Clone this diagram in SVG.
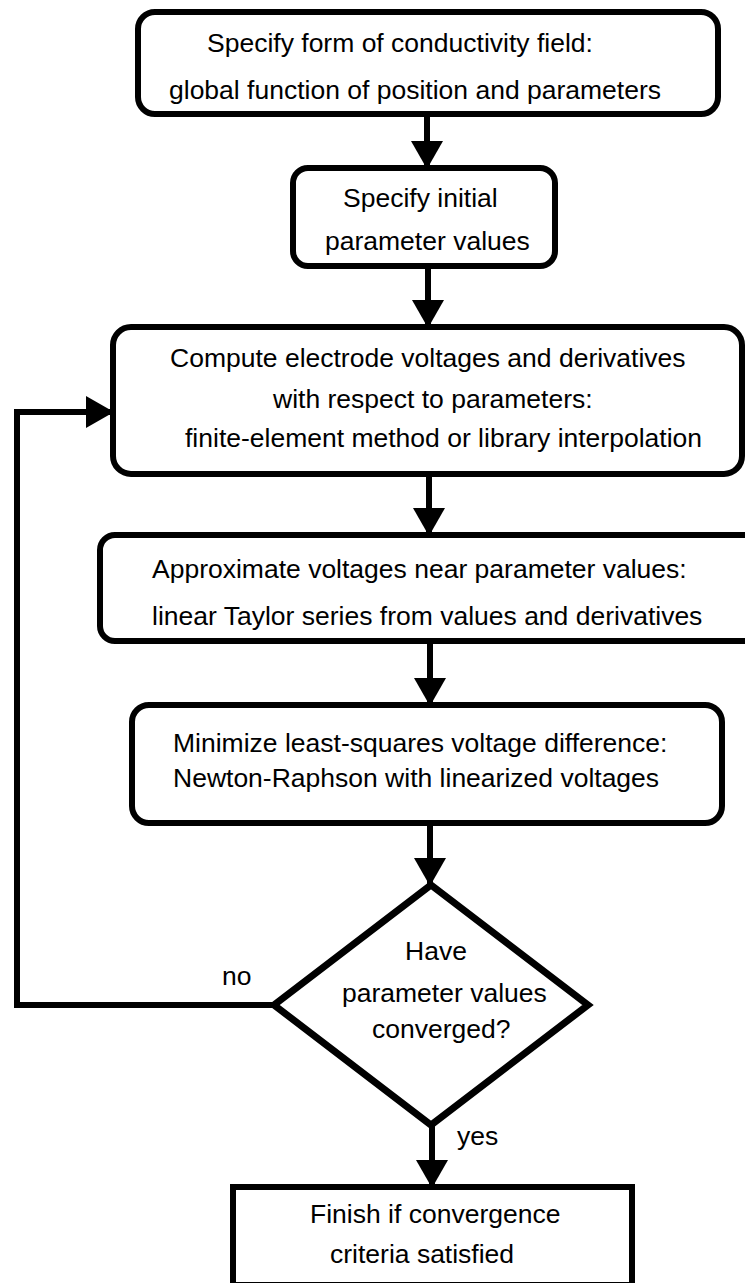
<svg xmlns="http://www.w3.org/2000/svg" width="745" height="1283" viewBox="0 0 745 1283">
<style>
.box{fill:#fff;stroke:#000;stroke-width:6}
.dia{fill:#fff;stroke:#000;stroke-width:7;stroke-linejoin:miter}
.t{font-family:"Liberation Sans",Arial,Helvetica,sans-serif;font-size:26.5px;fill:#000}
.c{stroke:#000;stroke-width:6;fill:none}
</style>
<defs>
<marker id="ah" markerUnits="userSpaceOnUse" markerWidth="28" markerHeight="32" refX="27" refY="16" orient="auto">
<path d="M0,0 L28,16 L0,32 z" fill="#000"/>
</marker>
</defs>
<rect width="745" height="1283" fill="#fff"/>
<g id="connectors">
<line class="c" x1="427" y1="114" x2="427" y2="168" marker-end="url(#ah)"/>
<line class="c" x1="428" y1="266" x2="428" y2="327" marker-end="url(#ah)"/>
<line class="c" x1="429" y1="474" x2="429" y2="535" marker-end="url(#ah)"/>
<line class="c" x1="430" y1="641" x2="430" y2="705" marker-end="url(#ah)"/>
<line class="c" x1="430" y1="823" x2="430" y2="885" marker-end="url(#ah)"/>
<line class="c" x1="432" y1="1125" x2="432" y2="1187" marker-end="url(#ah)"/>
<polyline class="c" points="274,1005 17,1005 17,412 113,412" marker-end="url(#ah)"/>
</g>
<g id="n1">
<rect class="box" x="138" y="12" width="580" height="102" rx="17"/>
<text class="t" x="207" y="52">Specify form of conductivity field:</text>
<text class="t" x="169" y="99">global function of position and parameters</text>
</g>
<g id="n2">
<rect class="box" x="293" y="168" width="262" height="98" rx="15"/>
<text class="t" x="343" y="207">Specify initial</text>
<text class="t" x="325" y="250">parameter values</text>
</g>
<g id="n3">
<rect class="box" x="113" y="327" width="629" height="147" rx="18"/>
<text class="t" x="170" y="367">Compute electrode voltages and derivatives</text>
<text class="t" x="273" y="408">with respect to parameters:</text>
<text class="t" x="185" y="447">finite-element method or library interpolation</text>
</g>
<g id="n4">
<rect class="box" x="100" y="535" width="660" height="106" rx="15"/>
<text class="t" x="152" y="578">Approximate voltages near parameter values:</text>
<text class="t" x="152" y="625">linear Taylor series from values and derivatives</text>
</g>
<g id="n5">
<rect class="box" x="132" y="705" width="590" height="118" rx="17"/>
<text class="t" x="173" y="752">Minimize least-squares voltage difference:</text>
<text class="t" x="173" y="787">Newton-Raphson with linearized voltages</text>
</g>
<g id="n6">
<polygon class="dia" points="431,885 588,1005 431,1125 274,1005"/>
<text class="t" x="405" y="960">Have</text>
<text class="t" x="342" y="1002">parameter values</text>
<text class="t" x="372" y="1038">converged?</text>
</g>
<g id="n7">
<rect class="box" x="233" y="1187" width="399" height="98"/>
<text class="t" x="310" y="1223">Finish if convergence</text>
<text class="t" x="330" y="1263">criteria satisfied</text>
</g>
<g id="labels">
<text class="t" x="222" y="985">no</text>
<text class="t" x="457" y="1145">yes</text>
</g>
</svg>
